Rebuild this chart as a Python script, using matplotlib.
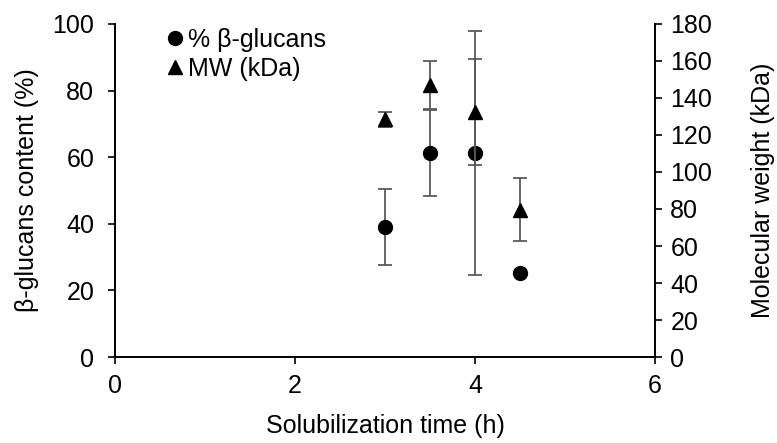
import numpy as np
import matplotlib.pyplot as plt
from matplotlib.lines import Line2D

plt.rcParams['font.family'] = ['Liberation Sans', 'DejaVu Sans']

# data
time_h = [3.0, 3.5, 4.0, 4.5]
glucans_pct = [39.0, 61.2, 61.2, 25.1]
glucans_err = [11.5, 12.9, 36.6, 0.0]
mw_kda = [128.5, 147.0, 132.5, 79.5]
mw_err = [4.0, 13.0, 28.5, 17.0]

fs = 18

fig = plt.figure(figsize=(7.77, 4.43), dpi=100)
ax1 = fig.add_axes([0.148, 0.194, 0.695, 0.752])
ax2 = ax1.twinx()

err_color = '#5a5a5a'
ax1.errorbar(time_h, glucans_pct, yerr=glucans_err, fmt='o', color='black',
             markersize=10, ecolor=err_color, elinewidth=1.3, capsize=5,
             capthick=1.3)
ax2.errorbar(time_h, mw_kda, yerr=mw_err, fmt='^', color='black',
             markersize=10, ecolor=err_color, elinewidth=1.3, capsize=5,
             capthick=1.3)

ax1.set_xlim(0, 6)
ax1.set_ylim(0, 100)
ax2.set_ylim(0, 180)
ax1.set_xticks([0, 2, 4, 6])
ax1.set_yticks(np.arange(0, 101, 20))
ax2.set_yticks(np.arange(0, 181, 20))

for ax in (ax1, ax2):
    ax.spines['top'].set_visible(False)
    ax.tick_params(labelsize=fs, length=5, width=1.2, direction='out')
    for s in ax.spines.values():
        s.set_linewidth(1.4)
ax1.spines['right'].set_visible(False)
ax2.spines['left'].set_visible(False)
ax2.spines['bottom'].set_visible(False)
ax1.tick_params(axis='y', pad=10)
ax1.tick_params(axis='x', pad=7)
ax2.tick_params(axis='y', pad=6)

ax1.set_xlabel('Solubilization time (h)', fontsize=fs, labelpad=12)
ax1.set_ylabel('β-glucans content (%)', fontsize=fs)
ax2.set_ylabel('Molecular weight (kDa)', fontsize=fs)
ax1.yaxis.set_label_coords(-0.141, 0.5)
ax2.yaxis.set_label_coords(1.178, 0.5)

handles = [Line2D([], [], marker='o', color='black', linestyle='none', markersize=10),
           Line2D([], [], marker='^', color='black', linestyle='none', markersize=10)]
labels = ['% β-glucans', 'MW (kDa)']
ax2.legend(handles, labels, loc='upper left', bbox_to_anchor=(0.203, 0.96),
           bbox_transform=fig.transFigure, frameon=False, fontsize=fs,
           handlelength=0.6, handletextpad=0.2, labelspacing=0.2,
           borderaxespad=0)

fig.savefig('out.png', dpi=100)
